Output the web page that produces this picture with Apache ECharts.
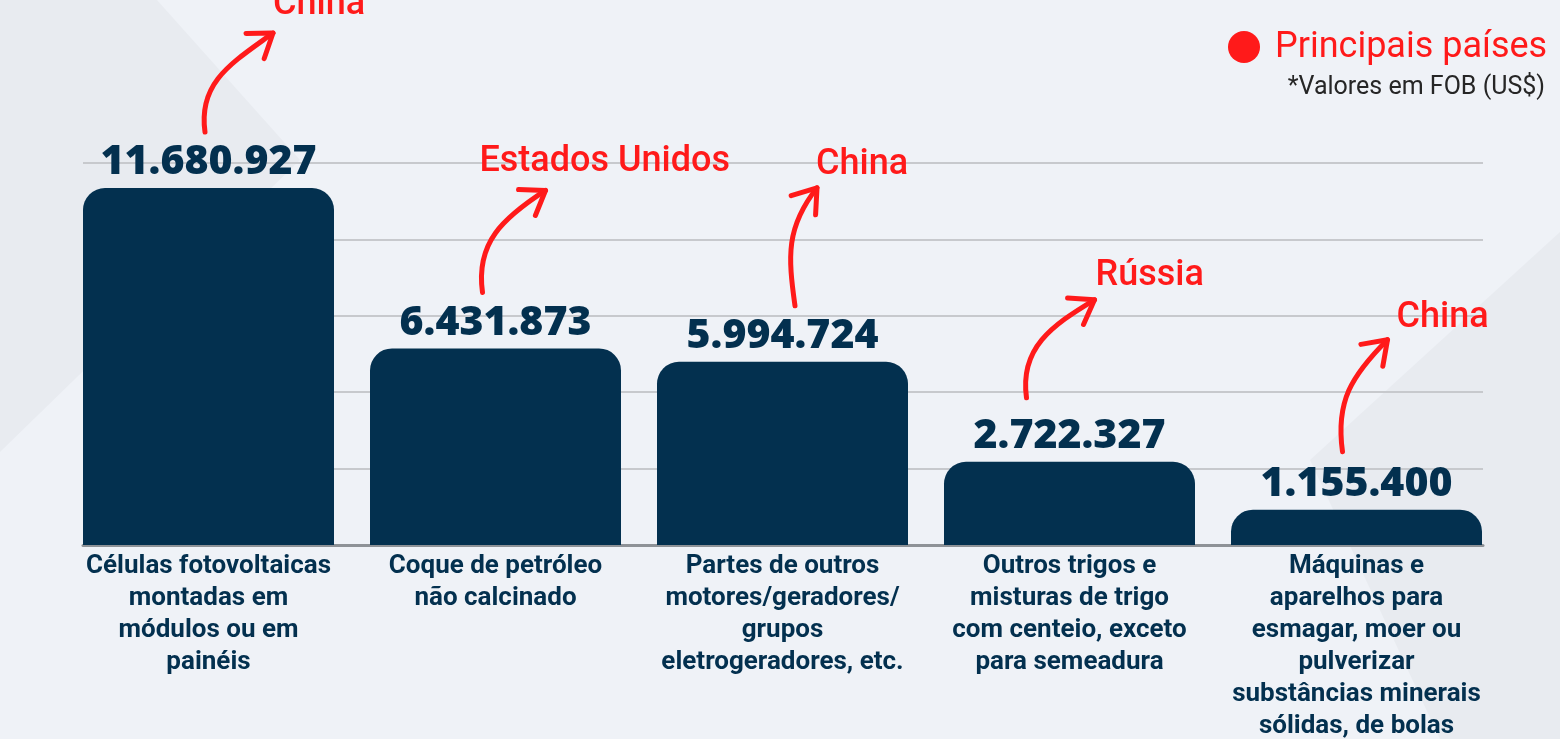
<!DOCTYPE html>
<html>
<head>
<meta charset="utf-8">
<script src="https://cdn.jsdelivr.net/npm/echarts@6/dist/echarts.min.js"></script>
<style>
html, body { margin: 0; padding: 0; }
body {
    background-color: #eff2f7;
    background-image: url("data:image/svg+xml;utf8,<svg xmlns='http://www.w3.org/2000/svg' width='1560' height='739'><polygon points='0,0 157,0 300,160 0,452' fill='%23e8ebf0'/><polygon points='1310,460 1560,232 1560,739 1440,739' fill='%23e8ebf0'/></svg>");
    background-repeat: no-repeat;
}
#chart { width: 1560px; height: 739px; }
</style>
</head>
<body>
<div id="chart"></div>
<script>
// dados
const categories = [
    'Células fotovoltaicas\nmontadas em\nmódulos ou em\npainéis',
    'Coque de petróleo\nnão calcinado',
    'Partes de outros\nmotores/geradores/\ngrupos\neletrogeradores, etc.',
    'Outros trigos e\nmisturas de trigo\ncom centeio, exceto\npara semeadura',
    'Máquinas e\naparelhos para\nesmagar, moer ou\npulverizar\nsubstâncias minerais\nsólidas, de bolas'
];
const values = [11680927, 6431873, 5994724, 2722327, 1155400];
const countries = ['China', 'Estados Unidos', 'China', 'Rússia', 'China'];
const yMax = 12500000;
const yStep = 2500000;

// setas: offsets relativos ao topo da barra [sx, sy, tx, ty, angulo, lx, ly]
const arrowLayout = [
    [-3.5, -56, 64.5, -155, 36, 64.5, -183],
    [-13, -56, 50, -158, 33, -16, -186],
    [12.5, -56, 34.5, -174, 52, 33.5, -197],
    [-43, -64, 25, -162, 31, 26, -186],
    [-14, -58, 31, -170, 45, 40, -192]
];

const RED = '#ff1a1a';
const NAVY = '#03304f';

function fmt(v) {
    return String(v).replace(/\B(?=(\d{3})+(?!\d))/g, '.');
}

const chart = echarts.init(document.getElementById('chart'));

const option = {
    backgroundColor: 'transparent',
    animation: false,
    grid: [
        { left: 65, right: 60, top: 163, bottom: 194, containLabel: false, outerBoundsMode: 'none' },
        { left: 83, right: 77, top: 163, bottom: 194, containLabel: false, outerBoundsMode: 'none' }
    ],
    xAxis: [{
        type: 'category',
        gridIndex: 0,
        data: categories,
        axisLine: { show: false },
        axisTick: { show: false },
        axisLabel: {
            interval: 0,
            margin: 5,
            color: NAVY,
            fontFamily: 'Roboto',
            fontWeight: 'bold',
            fontSize: 26,
            lineHeight: 32
        }
    }, {
        type: 'category',
        gridIndex: 1,
        data: categories,
        axisTick: { show: false },
        axisLabel: { show: false },
        axisLine: { lineStyle: { color: '#8e9297', width: 3 } }
    }],
    yAxis: [{
        type: 'value',
        gridIndex: 0,
        min: 0,
        max: yMax,
        interval: yStep,
        show: false
    }, {
        type: 'value',
        gridIndex: 1,
        min: 0,
        max: yMax,
        interval: yStep,
        axisLine: { show: false },
        axisTick: { show: false },
        axisLabel: { show: false },
        splitLine: { lineStyle: { color: '#c7c9cd', width: 2 } }
    }],
    series: [{
        type: 'bar',
        xAxisIndex: 0,
        yAxisIndex: 0,
        data: values,
        barWidth: 251,
        itemStyle: {
            color: NAVY,
            borderRadius: [22, 22, 0, 0]
        },
        label: {
            show: true,
            position: 'top',
            distance: 5,
            formatter: p => fmt(p.value),
            color: NAVY,
            fontFamily: 'Open Sans',
            fontWeight: 800,
            fontSize: 41
        }
    }]
};

chart.setOption(option);

// anotações (setas e países)
function buildGraphics() {
    const els = [];
    values.forEach((v, i) => {
        const p = chart.convertToPixel({ seriesIndex: 0 }, [i, v]);
        const a = arrowLayout[i];
        const sx = p[0] + a[0], sy = p[1] + a[1];
        const tx = p[0] + a[2], ty = p[1] + a[3];
        const ang = a[4] * Math.PI / 180;
        const dist = Math.hypot(tx - sx, ty - sy);
        const l1 = 0.42 * dist, l2 = 0.42 * dist;
        const d0 = [-0.14, -0.99];
        const u = [Math.cos(ang), -Math.sin(ang)];
        els.push({
            type: 'bezierCurve',
            shape: {
                x1: sx, y1: sy,
                cpx1: sx + l1 * d0[0], cpy1: sy + l1 * d0[1],
                cpx2: tx - l2 * u[0], cpy2: ty - l2 * u[1],
                x2: tx, y2: ty
            },
            style: { stroke: RED, lineWidth: 5, fill: null, lineCap: 'round' }
        });
        const r = [-u[0], -u[1]];
        const th = 35 * Math.PI / 180;
        const L = 27;
        const h1 = [r[0] * Math.cos(th) - r[1] * Math.sin(th), r[0] * Math.sin(th) + r[1] * Math.cos(th)];
        const h2 = [r[0] * Math.cos(-th) - r[1] * Math.sin(-th), r[0] * Math.sin(-th) + r[1] * Math.cos(-th)];
        els.push({
            type: 'polyline',
            shape: { points: [[tx + L * h1[0], ty + L * h1[1]], [tx, ty], [tx + L * h2[0], ty + L * h2[1]]] },
            style: { stroke: RED, lineWidth: 5, fill: null, lineCap: 'round', lineJoin: 'round' }
        });
        els.push({
            type: 'text',
            x: p[0] + a[5],
            y: p[1] + a[6],
            style: {
                text: countries[i],
                fill: RED,
                fontFamily: 'Roboto',
                fontWeight: 500,
                fontSize: 36,
                align: 'left',
                verticalAlign: 'middle'
            }
        });
    });

    // legenda
    els.push({
        type: 'circle',
        shape: { cx: 1244, cy: 47, r: 16 },
        style: { fill: RED }
    });
    els.push({
        type: 'text',
        x: 1275, y: 48,
        style: {
            text: 'Principais países',
            fill: RED,
            fontFamily: 'Roboto',
            fontSize: 36,
            align: 'left',
            verticalAlign: 'middle'
        }
    });
    els.push({
        type: 'text',
        x: 1545, y: 88,
        style: {
            text: '*Valores em FOB (US$)',
            fill: '#262626',
            fontFamily: 'Roboto',
            fontSize: 25,
            align: 'right',
            verticalAlign: 'middle'
        }
    });
    return els;
}

chart.setOption({ graphic: buildGraphics() });

window.addEventListener('resize', () => {
    chart && chart.resize();
});
</script>
</body>
</html>
